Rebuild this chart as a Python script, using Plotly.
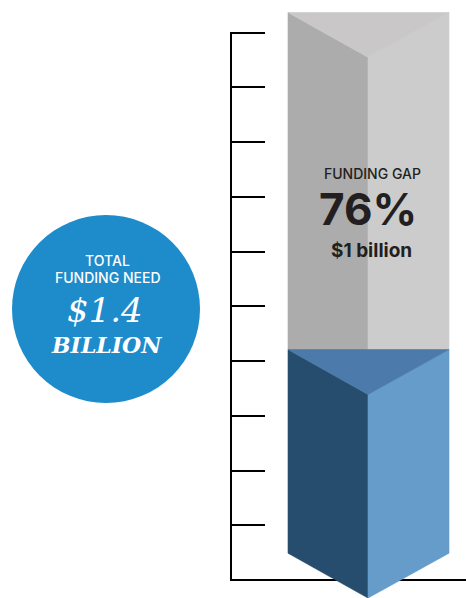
import plotly.graph_objects as go

# ---------------- data (axis units) ----------------
segments = ["Funded", "Funding gap"]
segment_heights = [3.72, 6.16]          # height of each block at its outer edges
column_base = 0.49                       # outer-edge bottom of the column
bevel = 0.82                             # depth of the chevron (3D top/bottom)
tick_values = [0, 1, 2, 3, 4, 5, 6, 7, 8, 9, 10]
axis_top = 10
total_lines = ["TOTAL", "FUNDING NEED", "$1.4", "BILLION"]
gap_lines = ["FUNDING GAP", "76%", "$1 billion"]

# ---------------- styles ----------------
W, H = 466, 598
PLOT_LEFT = 230
px_per_unit = 54.73
base_px = 580
y_lo = (base_px - H) / px_per_unit
y_hi = base_px / px_per_unit

def y_of(p):
    return (base_px - p) / px_per_unit

face_colors = {
    "Funded": {"left": "#264d6d", "right": "#669cc9", "top": "#4c7aaa"},
    "Funding gap": {"left": "#acacac", "right": "#cccccc", "top": "#c9c7c8"},
}
cx, xl, xr = 138, 58, 219   # column centre / left / right (x units of main plot)

fig = go.Figure()

# compute block bottoms/tops from the data
bottoms, tops = [], []
b = column_base
for h in segment_heights:
    bottoms.append(b)
    tops.append(b + h)
    b += h

def face(xs, ys, color):
    fig.add_trace(go.Scatter(
        x=xs, y=ys, fill="toself", fillcolor=color, mode="lines",
        line=dict(color=color, width=0.6), hoverinfo="skip", showlegend=False,
        xaxis="x", yaxis="y"))

# draw top block first so lower block's top face overlaps it
for i in reversed(range(len(segments))):
    name = segments[i]
    bot, top = bottoms[i], tops[i]
    c = face_colors[name]
    face([xl, cx, cx, xl, xl], [top, top - bevel, bot - bevel, bot, top], c["left"])
    face([cx, xr, xr, cx, cx], [top - bevel, top, bot, bot - bevel, top - bevel], c["right"])
    face([xl, xr, cx, xl], [top, top, top - bevel, top], c["top"])

# vertical axis line (from baseline to the top tick)
fig.add_trace(go.Scatter(x=[1, 1], y=[0, axis_top], mode="lines",
                         line=dict(color="black", width=2), hoverinfo="skip",
                         showlegend=False))

# invisible trace for the circle subplot
fig.add_trace(go.Scatter(x=[0], y=[0], mode="markers", marker=dict(opacity=0),
                         hoverinfo="skip", showlegend=False, xaxis="x2", yaxis="y2"))

fig.add_shape(type="circle", xref="x2", yref="y2", x0=12, x1=200, y0=215, y1=403,
              fillcolor="#1e8bcb", line=dict(width=0), layer="below")

sans = "Inter"
serif = "DejaVu Serif"
ann = [
    dict(text=total_lines[0], x=107, y=260, font=dict(family=sans, size=14, color="white", weight=500)),
    dict(text=total_lines[1], x=108, y=277, font=dict(family=sans, size=14, color="white", weight=500)),
    dict(text="<i>" + total_lines[2] + "</i>", x=105, y=310, font=dict(family=serif, size=34, color="white")),
    dict(text="<b><i>" + total_lines[3] + "</i></b>", x=106, y=345, font=dict(family=serif, size=22, color="white")),
]
for a in ann:
    fig.add_annotation(xref="x2", yref="y2", showarrow=False, **a)

gap_ann = [
    dict(text=gap_lines[0], x=142, y=y_of(173), font=dict(family=sans, size=14, color="#231f20", weight=500)),
    dict(text="<b>" + gap_lines[1] + "</b>", x=138, y=y_of(209), font=dict(family=sans, size=44, color="#231f20")),
    dict(text="<b>" + gap_lines[2] + "</b>", x=141, y=y_of(250), font=dict(family=sans, size=19, color="#231f20")),
]
for a in gap_ann:
    fig.add_annotation(xref="x", yref="y", showarrow=False, **a)

fig.update_layout(
    width=W, height=H, margin=dict(l=0, r=0, t=0, b=0),
    paper_bgcolor="white", plot_bgcolor="rgba(0,0,0,0)", showlegend=False,
    xaxis=dict(domain=[PLOT_LEFT / W, 1], range=[0, W - PLOT_LEFT], visible=False, fixedrange=True),
    yaxis=dict(domain=[0, 1], range=[y_lo, y_hi], tickvals=tick_values, ticks="inside",
               ticklen=35, tickwidth=2, tickcolor="black", showticklabels=False,
               showgrid=False, zeroline=True, zerolinecolor="black", zerolinewidth=2,
               showline=False, fixedrange=True),
    xaxis2=dict(domain=[0, PLOT_LEFT / W], range=[0, PLOT_LEFT], visible=False, anchor="y2"),
    yaxis2=dict(domain=[0, 1], range=[H, 0], visible=False, anchor="x2"),
)

fig.write_html("out.html")
